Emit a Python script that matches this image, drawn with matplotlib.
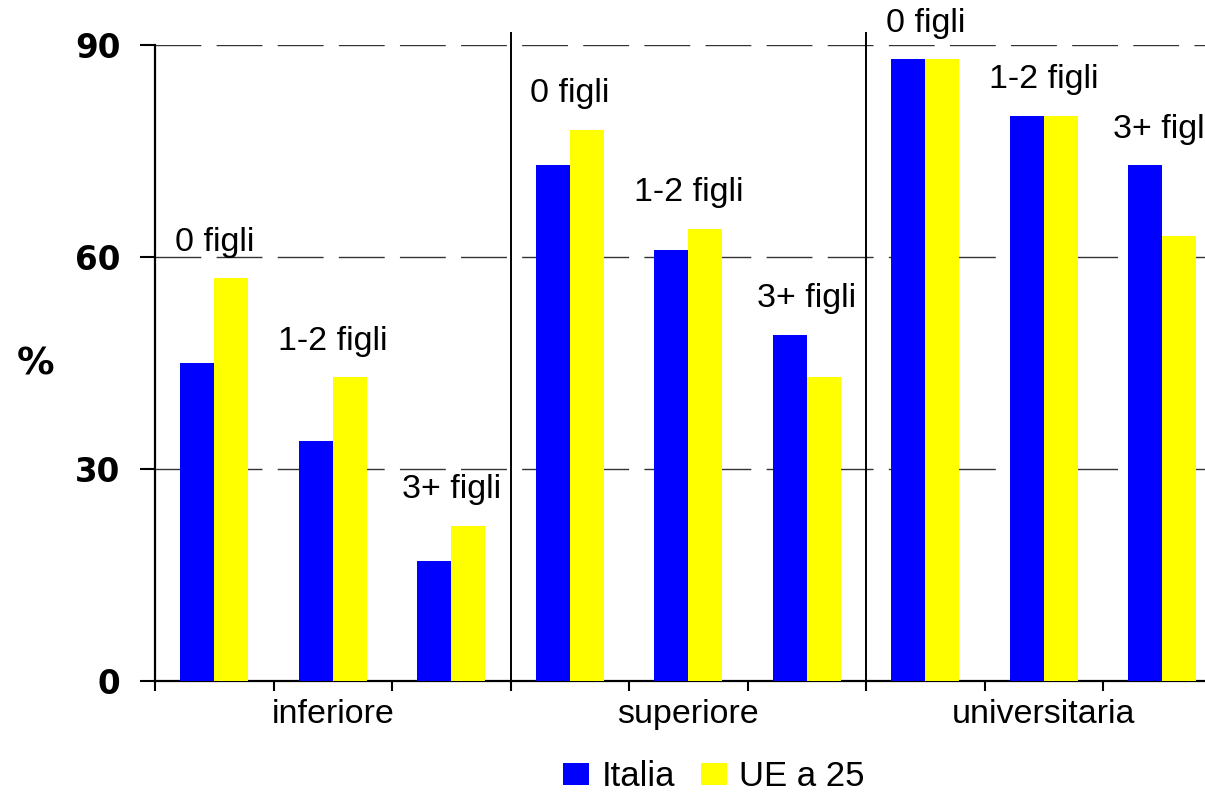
import numpy as np
import matplotlib
matplotlib.use("Agg")
import matplotlib.pyplot as plt
from matplotlib.patches import Patch

# education level groups, each split by number of children
levels = ["inferiore", "superiore", "universitaria"]
children = ["0 figli", "1-2 figli", "3+ figli"]
italia = [45, 34, 17, 73, 61, 49, 88, 80, 73]
ue25 = [57, 43, 22, 78, 64, 43, 88, 80, 63]
yticks = [0, 30, 60, 90]

blue = "#0000FF"
yellow = "#FFFF00"
sans = ["Liberation Sans", "DejaVu Sans"]

fig = plt.figure(figsize=(12.05, 7.93), dpi=100)
# axes runs past the right edge of the figure, like the original crop
ax = fig.add_axes([155 / 1205, 1 - 681 / 793, 9 * 118.5 / 1205, 636 / 793])

x = np.arange(len(italia)) + 0.5
w = 34 / 118.5
ax.bar(x - w / 2, italia, width=w, color=blue, linewidth=0, zorder=3)
ax.bar(x + w / 2, ue25, width=w, color=yellow, linewidth=0, zorder=3)

for i, xi in enumerate(x):
    top = max(italia[i], ue25[i])
    ax.annotate(children[i % 3], (xi, top), xytext=(0, 26),
                textcoords="offset points", ha="center", va="center",
                fontsize=24.5, family=sans, annotation_clip=False)

ax.set_xlim(0, 9)
ax.set_ylim(0, 90)

# separators between education levels
for sep in [3, 6]:
    ax.plot([sep, sep], [0, 91.7], color="black", lw=1.4, clip_on=False, zorder=4)

for yv in yticks[1:]:
    ax.axhline(yv, color="#333333", lw=1.0, ls=(0, (33, 11)), zorder=1)

ax.set_yticks(yticks)
ax.set_yticklabels([str(v) for v in yticks], fontsize=23.5, fontweight="bold",
                   family="DejaVu Sans")
ax.tick_params(axis="y", length=11, width=1.5, pad=14)

ax.set_xticks(np.arange(0, 10))
ax.set_xticklabels([])
ax.tick_params(axis="x", which="major", length=7, width=1.5)
ax.set_xticks([1.5, 4.5, 7.5], minor=True)
ax.set_xticklabels(levels, minor=True, fontsize=24.5, family=sans)
ax.tick_params(axis="x", which="minor", length=0, pad=13)

for side in ["top", "right"]:
    ax.spines[side].set_visible(False)
for side in ["left", "bottom"]:
    ax.spines[side].set_linewidth(1.6)

fig.text(36 / 1205, 1 - 364 / 793, "%", fontsize=27, fontweight="bold",
         family="DejaVu Sans", ha="center", va="center")

handles = [Patch(facecolor=blue, edgecolor="none", label="Italia"),
           Patch(facecolor=yellow, edgecolor="none", label="UE a 25")]
fig.legend(handles=handles, loc="center", bbox_to_anchor=(714 / 1205, 1 - 777 / 793),
           ncol=2, frameon=False, prop={"family": sans, "size": 25},
           handlelength=0.75, handleheight=0.6, handletextpad=0.35,
           columnspacing=0.75, borderpad=0)

fig.savefig("out.png", dpi=100)
